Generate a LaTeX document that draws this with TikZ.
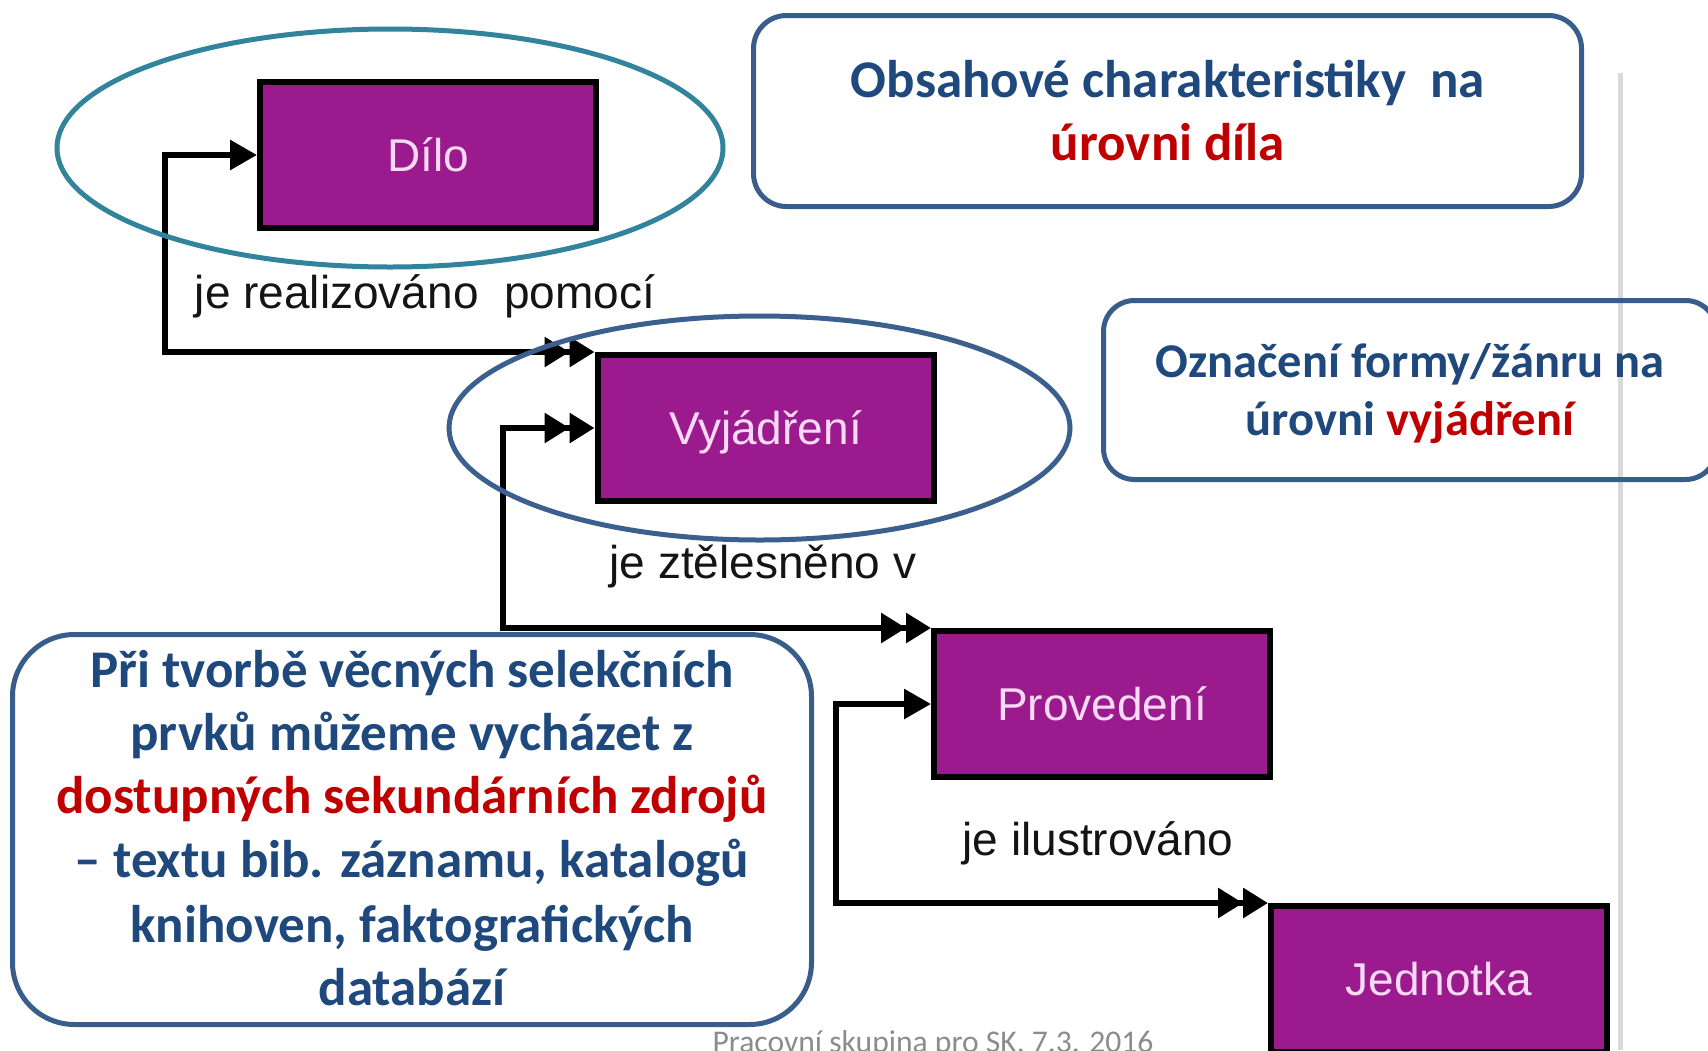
\documentclass[tikz,border=0pt]{standalone}
\usepackage{fontspec}
\setmainfont{Liberation Sans}
\newfontfamily\calfont{Carlito}
\newfontfamily\arfont{Liberation Sans}
\usetikzlibrary{arrows.meta}
\definecolor{purplebox}{RGB}{155,27,143}
\definecolor{pinktext}{RGB}{248,218,244}
\definecolor{frameblue}{RGB}{56,93,138}
\definecolor{textblue}{RGB}{31,73,125}
\definecolor{textred}{RGB}{192,0,0}
\definecolor{tealring}{RGB}{49,132,155}
\definecolor{ringblue}{RGB}{60,96,142}
\definecolor{footgray}{RGB}{140,140,140}
\definecolor{rulegray}{RGB}{217,217,217}
\tikzset{
  sgl/.tip={Triangle[length=27pt,width=29pt,sep=0pt]},
  dbl/.tip={Triangle[length=25pt,width=29pt,sep=0pt] Triangle[length=25pt,width=29pt,sep=0pt]},
}
\begin{document}
\begin{tikzpicture}[x=1pt,y=-1pt,
  entity/.style={draw=black, line width=6pt, fill=purplebox, minimum width=336pt,
    minimum height=146pt, inner sep=0pt, text=pinktext,
    font=\arfont\fontsize{46}{55}\selectfont, text height=33pt, text depth=0pt},
  rel/.style={anchor=base, inner sep=0pt, text=black!92,
    font=\arfont\fontsize{46}{55}\selectfont},
  callout/.style={draw=frameblue, line width=5pt, inner sep=0pt},
  note/.style={anchor=base, inner sep=0pt, text=textblue,
    font=\calfont\bfseries\fontsize{53}{64}\selectfont},
  smallnote/.style={anchor=base, inner sep=0pt, text=textblue,
    font=\calfont\bfseries\fontsize{48.5}{58}\selectfont},
  conn/.style={line width=6pt, draw=black, line join=miter},
  ring/.style={line width=5pt},
]
\useasboundingbox (0,0) rectangle (1708,1050);
\clip (0,0) rectangle (1708,1050);
\fill[white] (0,0) rectangle (1708,1050);

% grey rule at right
\draw[rulegray, line width=5pt] (1620,73) -- (1620,1050);

% entities
\node[entity] (dilo) at (428,155) {Dílo};
\node[entity] (vyj) at (765.5,428) {Vyjádření};
\node[entity] (prov) at (1102,704) {Provedení};
\node[entity] (jed) at (1439,979) {Jednotka};

% connectors
\coordinate (a1) at (165,155);
\coordinate (a2) at (a1 |- vyj.north west);
\draw[conn, arrows={sgl-dbl}] (dilo.west) -- (a1) -- (a2) -- (vyj.north west);
\coordinate (b1) at (503,428);
\coordinate (b2) at (b1 |- prov.north west);
\draw[conn, arrows={dbl-dbl}] (vyj.west) -- (b1) -- (b2) -- (prov.north west);
\coordinate (c1) at (836,704);
\coordinate (c2) at (c1 |- jed.north west);
\draw[conn, arrows={sgl-dbl}] (prov.west) -- (c1) -- (c2) -- (jed.north west);

% relationship labels
\node[rel] (r1) at (425,308) {je realizováno\ \ pomocí};
\node[rel] (r2) at (763,578) {je ztělesněno v};
\node[rel] (r3) at (1098,855) {je ilustrováno};

% ellipses
\draw[ring, tealring] (390,148) ellipse [x radius=333, y radius=119];
\draw[ring, ringblue] (759.5,428) ellipse [x radius=310.5, y radius=112];

% callout 1
\node[callout, rounded corners=33pt, minimum width=828pt, minimum height=191pt] (box1) at (1167.5,111) {};
\node[note] (t1a) at (1168,97) {Obsahové charakteristiky\ \ na};
\node[note, text=textred] (t1b) at (1168,160) {úrovni díla};

% callout 2
\node[callout, rounded corners=31pt, minimum width=613pt, minimum height=179pt] (box2) at (1410,390) {};
\node[smallnote] (t2a) at (1410,377) {Označení formy/žánru na};
\node[smallnote] (t2b) at (1410,435) {úrovni \textcolor{textred}{vyjádření}};

% callout 3
\node[callout, fill=white, rounded corners=62pt, minimum width=799pt, minimum height=390pt] (box3) at (412,829.5) {};
\node[note] (t3a) at (412,687) {Při tvorbě věcných selekčních};
\node[note] (t3b) at (412,750) {prvků můžeme vycházet z};
\node[note, text=textred] (t3c) at (412,813) {dostupných sekundárních zdrojů};
\node[note] (t3d) at (412,877) {– textu bib. záznamu, katalogů};
\node[note] (t3e) at (412,942) {knihoven, faktografických};
\node[note] (t3f) at (412,1005) {databází};

% footer
\node[anchor=base, inner sep=0pt, text=footgray, font=\calfont\fontsize{31.6}{38}\selectfont] (foot) at (933,1052) {Pracovní skupina pro SK, 7.3. 2016};
\end{tikzpicture}
\end{document}
